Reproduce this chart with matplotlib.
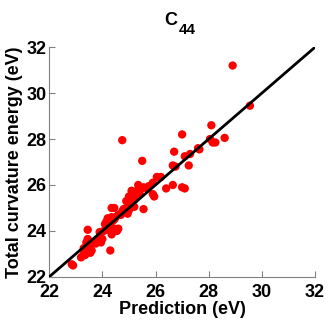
import matplotlib
matplotlib.use("Agg")
import matplotlib.pyplot as plt

plt.rcParams["font.family"] = ["Liberation Sans", "DejaVu Sans"]
plt.rcParams["font.weight"] = "bold"

# prediction vs total curvature energy (eV)
pred = [22.85, 22.9, 23.2, 23.3, 23.35, 23.45, 23.3, 23.55, 23.6, 23.5, 23.4, 23.45, 23.6,
        23.45, 23.75, 23.85, 23.95, 24.0, 23.9, 24.05, 24.2, 24.25, 24.3, 24.3, 24.35, 24.4,
        24.45, 24.55, 24.6, 24.2, 24.15, 24.1, 24.4, 24.5, 24.35, 24.45,
        24.35, 24.45, 24.6, 24.7, 24.75, 24.8, 24.9, 24.95, 25.0, 25.05, 25.1, 25.15, 25.2,
        25.3, 25.25, 25.35, 25.1, 25.4, 25.5, 25.55, 25.7, 25.75, 25.55, 25.0, 24.9, 25.2,
        25.9, 25.9, 26.05, 26.2, 26.4, 26.65, 26.65, 26.75, 27.0, 27.1, 26.7, 27.1, 27.25,
        27.3, 27.6, 27.65, 27.0, 28.05, 28.15, 28.25, 28.1, 28.6, 28.9, 29.55, 25.5, 24.75,
        25.35, 25.95]
energy = [22.55, 22.5, 22.85, 23.0, 22.95, 23.1, 23.25, 23.05, 23.15, 23.3, 23.5, 23.65, 23.5,
          24.05, 23.45, 23.6, 23.5, 23.65, 23.95, 24.0, 24.05, 24.2, 24.35, 23.15, 23.85, 24.05,
          24.1, 24.0, 24.1, 24.55, 24.4, 24.3, 24.45, 24.6, 24.6, 24.5,
          25.0, 25.0, 24.7, 24.7, 24.85, 24.95, 25.0, 24.75, 24.9, 25.3, 25.2, 25.45, 25.35,
          25.5, 25.7, 25.8, 25.75, 25.6, 25.85, 25.9, 25.85, 25.95, 24.95, 25.5, 25.3, 25.05,
          26.1, 25.6, 26.35, 26.35, 25.85, 26.0, 26.85, 26.8, 25.9, 25.85, 27.45, 27.25, 26.85,
          27.35, 27.6, 27.55, 28.2, 28.0, 27.85, 27.85, 28.6, 28.05, 31.2, 29.45, 27.05, 27.95,
          26.0, 25.5]

lims = [22, 32]
ticks = [22, 24, 26, 28, 30, 32]

fig = plt.figure(figsize=(3.32, 3.32), dpi=100)
ax = fig.add_axes([0.148, 0.166, 0.801, 0.692])

ax.scatter(pred, energy, s=36, color="#ff0000", edgecolors="none", zorder=2)
ax.plot(lims, lims, color="black", linewidth=2, zorder=3)

ax.set_xlim(lims)
ax.set_ylim(lims)
ax.set_xticks(ticks)
ax.set_yticks(ticks)
ax.tick_params(direction="in", length=4, color="gray", labelsize=13, pad=2)
ax.tick_params(axis="x", pad=5)
for s in ("top", "right"):
    ax.spines[s].set_visible(False)
for s in ("left", "bottom"):
    ax.spines[s].set_color("gray")

ax.set_xlabel("Prediction (eV)", fontsize=13, fontweight="bold", labelpad=0)
ax.set_ylabel("Total curvature energy (eV)", fontsize=13, fontweight="bold", labelpad=2)

# title C44 with large subscript
fig.text(0.535, 0.925, "C", fontsize=13, fontweight="bold", ha="right", va="baseline")
fig.text(0.537, 0.897, "44", fontsize=11, fontweight="bold", ha="left", va="baseline")

fig.savefig("out.png", dpi=100)
